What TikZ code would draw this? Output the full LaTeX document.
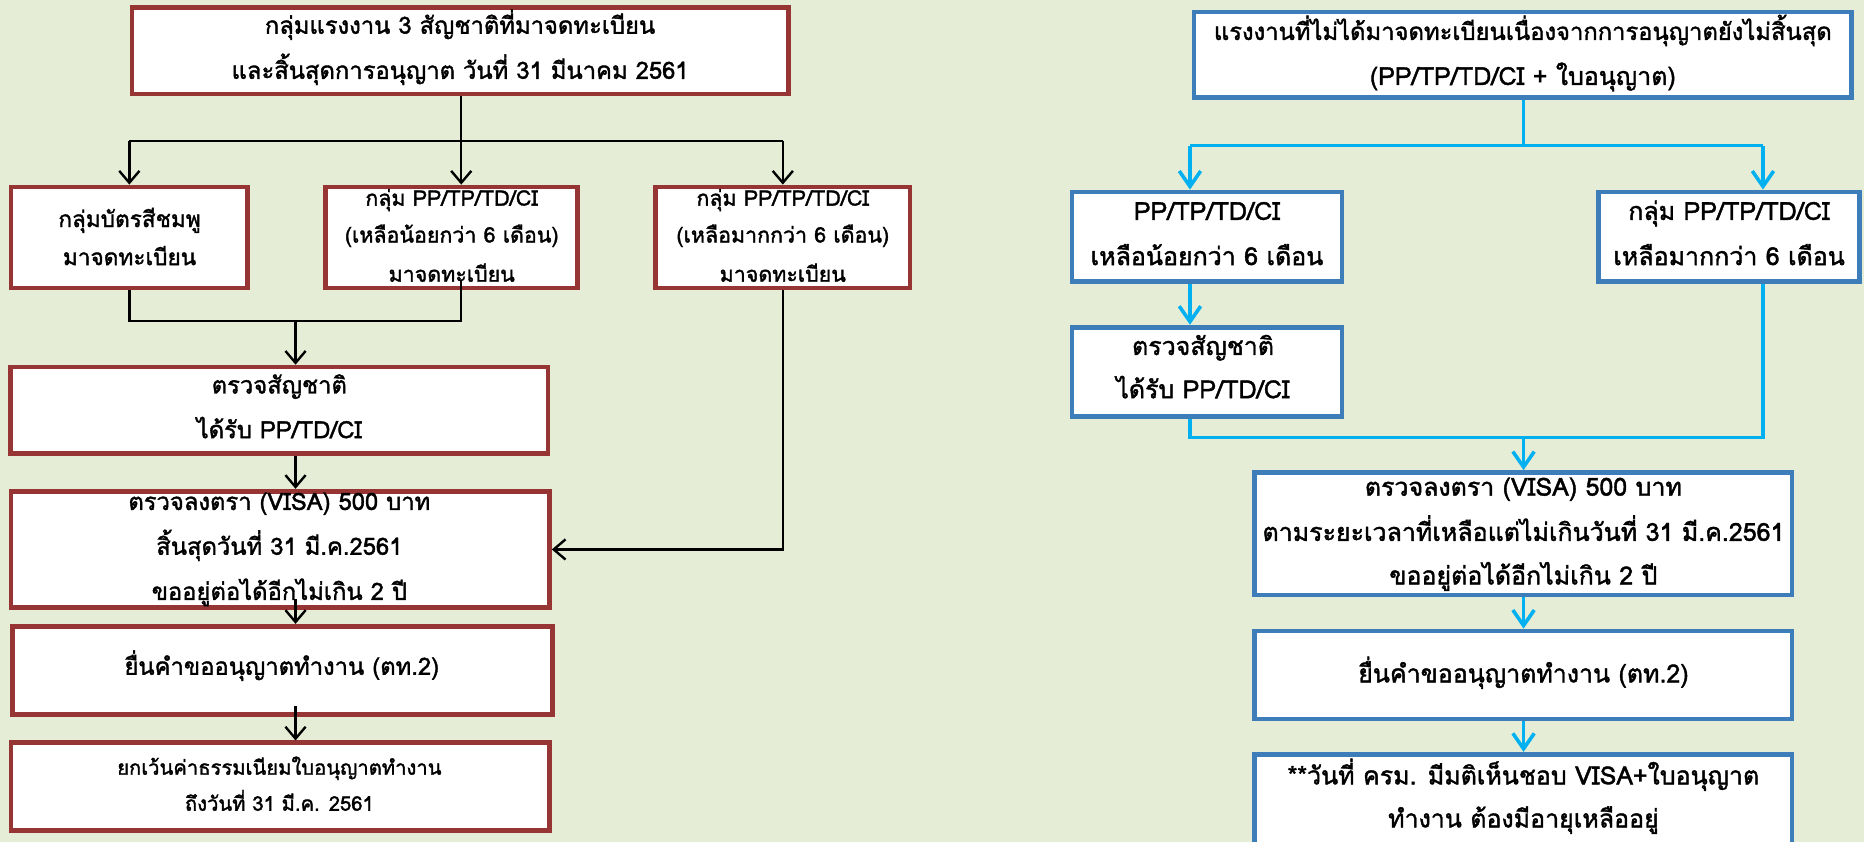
\documentclass[tikz,border=0pt]{standalone}
\usepackage{fontspec}
\newfontfamily\thai[Script=Thai,FakeBold=1.6]{Loma}
\usetikzlibrary{arrows.meta}
\definecolor{bgc}{HTML}{E6EDD6}
\definecolor{redb}{HTML}{963533}
\definecolor{blueb}{HTML}{3D7DBA}
\definecolor{cyanl}{HTML}{00B0F0}
\begin{document}
\begin{tikzpicture}[x=1pt,y=-1pt,
  lbox/.style={draw=redb,line width=4pt,fill=white,inner sep=0pt},
  rbox/.style={draw=blueb,line width=4pt,fill=white,inner sep=0pt},
  tl/.style={anchor=base,inner sep=0pt,font=\thai\fontsize{20}{24}\selectfont},
  tm/.style={anchor=base,inner sep=0pt,font=\thai\fontsize{19}{23}\selectfont},
  ts/.style={anchor=base,inner sep=0pt,font=\thai\fontsize{18}{22}\selectfont},
  tx/.style={anchor=base,inner sep=0pt,font=\thai\fontsize{17}{21}\selectfont},
  tr/.style={anchor=base,inner sep=0pt,font=\thai\fontsize{21}{25}\selectfont},
  blk/.style={draw=black,line width=2pt},
  blka/.style={blk,-{Straight Barb[length=10pt,width=17pt,line width=2pt]}},
  bl/.style={draw=cyanl,line width=3pt},
  bla/.style={bl,-{Straight Barb[length=13pt,width=18pt,line width=3pt]}}]
\fill[bgc] (0,0) rectangle (1568,708);
\useasboundingbox (0,0) rectangle (1568,708);

% ---------- left boxes
\node[lbox,minimum width=552pt,minimum height=73pt] (L0) at (387,42.5) {};
\node[lbox,minimum width=199pt,minimum height=85pt] (L1) at (108.8,199.8) {};
\node[lbox,minimum width=212pt,minimum height=85pt] (L2) at (380,199.8) {};
\node[lbox,minimum width=214pt,minimum height=85pt] (L3) at (658.5,199.8) {};
\node[lbox,minimum width=452pt,minimum height=73pt] (L4) at (235,345.3) {};
\node[lbox,minimum width=453pt,minimum height=98pt] (L5) at (235.7,462.2) {};
\node[lbox,minimum width=454pt,minimum height=74pt] (L6) at (237.5,563.8) {};
\node[lbox,minimum width=453pt,minimum height=74pt] (L7) at (235.7,661.9) {};

% ---------- right boxes
\node[rbox,minimum width=553pt,minimum height=72pt] (R0) at (1280.9,46.2) {};
\node[rbox,minimum width=227pt,minimum height=75pt] (R1) at (1015.3,199) {};
\node[rbox,minimum width=220pt,minimum height=75pt] (R2) at (1454.5,199) {};
\node[rbox,minimum width=227pt,minimum height=75pt] (R3) at (1015.3,312.7) {};
\node[rbox,minimum width=452pt,minimum height=103pt] (R4) at (1281.5,449) {};
\node[rbox,minimum width=452pt,minimum height=74pt] (R5) at (1281.5,567.8) {};
\node[rbox,minimum width=452pt,minimum height=76pt] (R6) at (1281.5,672.5) {};

% ---------- left texts
\node[tl] (L0a) at (387,28.4) {กลุ่มแรงงาน 3 สัญชาติที่มาจดทะเบียน};
\node[tl] (L0b) at (387,66.3) {และสิ้นสุดการอนุญาต วันที่ 31 มีนาคม 2561};
\node[tm] (L1a) at (109,191) {กลุ่มบัตรสีชมพู};
\node[tm] (L1b) at (109,223) {มาจดทะเบียน};
\node[ts] (L2a) at (380,173) {กลุ่ม PP/TP/TD/CI};
\node[ts] (L2b) at (380,204) {(เหลือน้อยกว่า 6 เดือน)};
\node[ts] (L2c) at (380,237) {มาจดทะเบียน};
\node[ts] (L3a) at (658.5,173) {กลุ่ม PP/TP/TD/CI};
\node[ts] (L3b) at (658.5,204) {(เหลือมากกว่า 6 เดือน)};
\node[ts] (L3c) at (658.5,237) {มาจดทะเบียน};
\node[tl] (L4a) at (235,331) {ตรวจสัญชาติ};
\node[tl] (L4b) at (235,368.6) {ได้รับ PP/TD/CI};
\node[tl] (L5a) at (235,429) {ตรวจลงตรา (VISA) 500 บาท};
\node[tl] (L5b) at (235,466.7) {สิ้นสุดวันที่ 31 มี.ค.2561};
\node[tl] (L5c) at (235,504.6) {ขออยู่ต่อได้อีกไม่เกิน 2 ปี};
\node[tl] (L6a) at (237,567.6) {ยื่นคำขออนุญาตทำงาน (ตท.2)};
\node[tx] (L7a) at (235,651.7) {ยกเว้นค่าธรรมเนียมใบอนุญาตทำงาน};
\node[tx] (L7b) at (235,682) {ถึงวันที่ 31 มี.ค. 2561};

% ---------- right texts
\node[tr,font=\thai\fontsize{20}{24}\selectfont] (R0a) at (1281,33.6) {แรงงานที่ไม่ได้มาจดทะเบียนเนื่องจากการอนุญาตยังไม่สิ้นสุด};
\node[tr] (R0b) at (1281,71.5) {(PP/TP/TD/CI + ใบอนุญาต)};
\node[tr] (R1a) at (1015.3,185) {PP/TP/TD/CI};
\node[tr] (R1b) at (1015.3,223) {เหลือน้อยกว่า 6 เดือน};
\node[tr] (R2a) at (1454.5,185) {กลุ่ม PP/TP/TD/CI};
\node[tr] (R2b) at (1454.5,223) {เหลือมากกว่า 6 เดือน};
\node[tr] (R3a) at (1012,298.6) {ตรวจสัญชาติ};
\node[tr] (R3b) at (1012,335) {ได้รับ PP/TD/CI};
\node[tr] (R4a) at (1281.5,417) {ตรวจลงตรา (VISA) 500 บาท};
\node[tr] (R4b) at (1281.5,455) {ตามระยะเวลาที่เหลือแต่ไม่เกินวันที่ 31 มี.ค.2561};
\node[tr] (R4c) at (1281.5,491.6) {ขออยู่ต่อได้อีกไม่เกิน 2 ปี};
\node[tr] (R5a) at (1281.5,574) {ยื่นคำขออนุญาตทำงาน (ตท.2)};
\node[tr] (R6a) at (1281.5,659.8) {**วันที่ ครม. มีมติเห็นชอบ VISA+ใบอนุญาต};
\node[tr] (R6b) at (1281.5,696) {ทำงาน ต้องมีอายุเหลืออยู่};

% ---------- left connectors
\coordinate (lbar) at (388,118.6);
\coordinate (lm) at (248.6,270);
\draw[blk] (L0.south -| lbar) -- (lbar);
\draw[blk] (lbar -| L1.north) -- (lbar -| L3.north);
\draw[blka] (lbar -| L1.north) -- (L1.north);
\draw[blka] (lbar) -- (lbar |- L2.north);
\draw[blka] (lbar -| L3.north) -- (L3.north);
\draw[blk] (L1.south) |- (lbar |- lm) -- ([yshift=9pt]lbar |- L2.south);
\draw[blka] (lm) -- (lm |- L4.north);
\draw[blka] (lm |- L4.south) -- (lm |- L5.north);
\draw[blka] ([yshift=9pt]lm |- L5.south) -- (lm |- L6.north);
\draw[blka] ([yshift=9pt]lm |- L6.south) -- (lm |- L7.north);
\draw[blka] (L3.south) |- (L5.east);

% ---------- right connectors
\coordinate (rbar) at (1281.6,122.5);
\coordinate (r1x) at (1001,0);
\coordinate (r2x) at (1483,0);
\coordinate (rm) at (1281.6,368);
\draw[bl] (R0.south -| rbar) -- (rbar);
\draw[bl] (rbar -| r1x) -- (rbar -| r2x);
\draw[bla] (rbar -| r1x) -- (R1.north -| r1x);
\draw[bla] (rbar -| r2x) -- (R2.north -| r2x);
\draw[bla] (R1.south -| r1x) -- (R3.north -| r1x);
\draw[bl] (R3.south -| r1x) |- (rm -| r2x) -- (R2.south -| r2x);
\draw[bla] (rm) -- (R4.north -| rm);
\draw[bla] (R4.south -| rm) -- (R5.north -| rm);
\draw[bla] (R5.south -| rm) -- (R6.north -| rm);
\end{tikzpicture}
\end{document}
